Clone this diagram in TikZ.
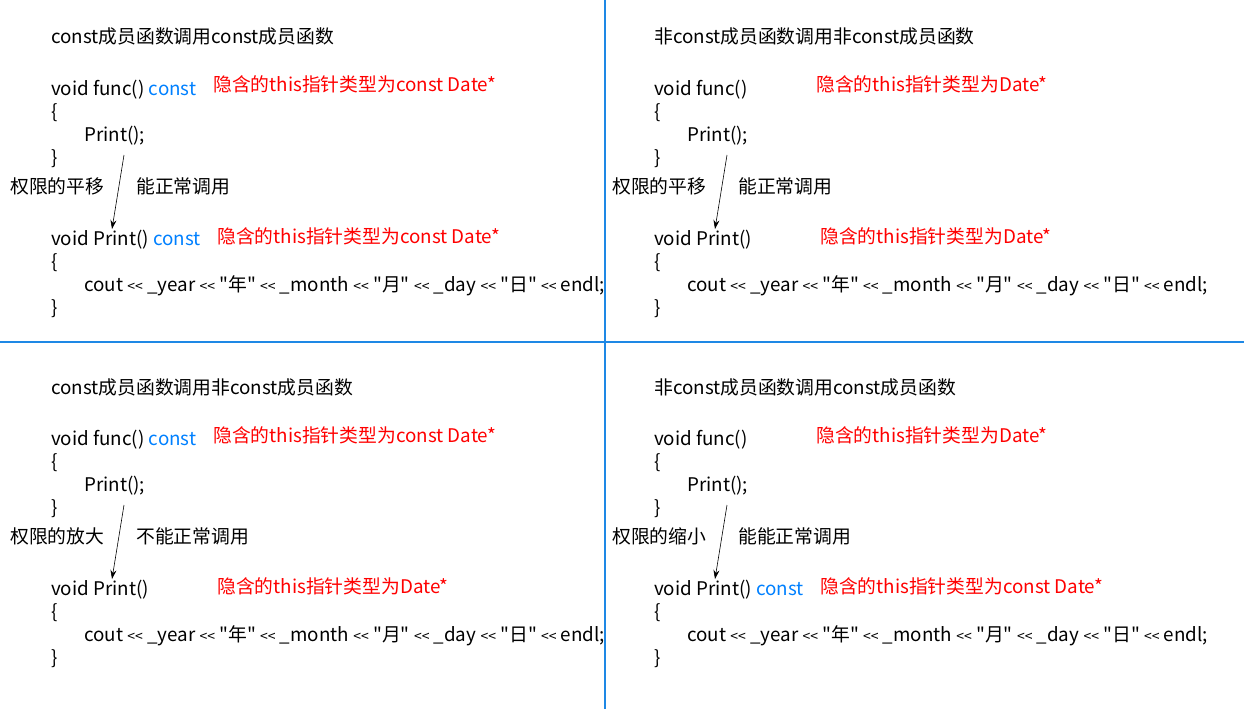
\documentclass[tikz,border=0pt]{standalone}
\usepackage{fontspec}
\newfontfamily\codefont{Noto Sans CJK SC}
\usetikzlibrary{arrows.meta, positioning}
\definecolor{divblue}{RGB}{30,136,229}
\definecolor{kwblue}{RGB}{0,128,255}
\newcommand{\kw}[1]{\textcolor{kwblue}{#1}}
\newcommand{\shl}{{\fontsize{14}{14}\selectfont<<}}

\begin{document}
\begin{tikzpicture}[
                x=1pt, y=-1pt,
                >={Stealth[length=9pt,width=6pt]},
                txt/.style={
                    anchor=base west,
                    inner sep=0pt,
                    font=\codefont\fontsize{18.8}{22}\selectfont
                },
                note/.style={
                    txt,
                    text=red
                },
                call/.style={
                    ->,
                    semithick
                },
                divider/.style={
                    divblue,
                    line width=1.5pt
                }
            ]

                \useasboundingbox (0,0) rectangle (1244,709);

                % top left
                \begin{scope}
                    \node[txt] (ta) at (51,44) {const成员函数调用const成员函数};
                    \node[txt] (fa) at (51,95) {void func() \kw{const}};
                    \node[note] (na) at (213,92) {隐含的this指针类型为const Date*};
                    \node[txt] (ba) at (51,118) {\{};
                    \node[txt] (ca) at (84,141) {Print();};
                    \node[txt] (ea) at (51,164) {\}};
                    \node[txt] (la) at (10,193) {权限的平移};
                    \node[txt] (ra) at (136,193) {能正常调用};
                    \node[txt] (pa) at (51,245) {void Print() \kw{const}};
                    \node[note] (ma) at (217,243) {隐含的this指针类型为const Date*};
                    \node[txt] (ba2) at (51,268) {\{};
                    \node[txt] (oa) at (84,291) {cout \shl{} \_year \shl{} "年" \shl{} \_month \shl{} "月" \shl{} \_day \shl{} "日" \shl{} endl;};
                    \node[txt] (ea2) at (51,314) {\}};
                    \coordinate (sa) at (124,155);
                    \coordinate (da) at (112,229);
                    \draw[call] (sa) -- (da);
                \end{scope}

                % top right
                \begin{scope}[shift={(603,0)}]
                    \node[txt] (tb) at (51,44) {非const成员函数调用非const成员函数};
                    \node[txt] (fb) at (51,95) {void func()};
                    \node[note] (nb) at (213,92) {隐含的this指针类型为Date*};
                    \node[txt] (bb) at (51,118) {\{};
                    \node[txt] (cb) at (84,141) {Print();};
                    \node[txt] (eb) at (51,164) {\}};
                    \node[txt] (lb) at (9,193) {权限的平移};
                    \node[txt] (rb) at (135,193) {能正常调用};
                    \node[txt] (pb) at (51,245) {void Print()};
                    \node[note] (mb) at (217,243) {隐含的this指针类型为Date*};
                    \node[txt] (bb2) at (51,268) {\{};
                    \node[txt] (ob) at (84,291) {cout \shl{} \_year \shl{} "年" \shl{} \_month \shl{} "月" \shl{} \_day \shl{} "日" \shl{} endl;};
                    \node[txt] (eb2) at (51,314) {\}};
                    \coordinate (sb) at (124,155);
                    \coordinate (db) at (112,229);
                    \draw[call] (sb) -- (db);
                \end{scope}

                % bottom left
                \begin{scope}[shift={(0,350)}]
                    \node[txt] (tc) at (51,44) {const成员函数调用非const成员函数};
                    \node[txt] (fc) at (51,95) {void func() \kw{const}};
                    \node[note] (nc) at (213,92) {隐含的this指针类型为const Date*};
                    \node[txt] (bc) at (51,118) {\{};
                    \node[txt] (cc) at (84,141) {Print();};
                    \node[txt] (ec) at (51,164) {\}};
                    \node[txt] (lc) at (10,193) {权限的放大};
                    \node[txt] (rc) at (136,193) {不能正常调用};
                    \node[txt] (pc) at (51,245) {void Print()};
                    \node[note] (mc) at (217,243) {隐含的this指针类型为Date*};
                    \node[txt] (bc2) at (51,268) {\{};
                    \node[txt] (oc) at (84,291) {cout \shl{} \_year \shl{} "年" \shl{} \_month \shl{} "月" \shl{} \_day \shl{} "日" \shl{} endl;};
                    \node[txt] (ec2) at (51,314) {\}};
                    \coordinate (sc) at (124,155);
                    \coordinate (dc) at (112,229);
                    \draw[call] (sc) -- (dc);
                \end{scope}

                % bottom right
                \begin{scope}[shift={(603,350)}]
                    \node[txt] (td) at (51,44) {非const成员函数调用const成员函数};
                    \node[txt] (fd) at (51,95) {void func()};
                    \node[note] (nd) at (213,92) {隐含的this指针类型为Date*};
                    \node[txt] (bd) at (51,118) {\{};
                    \node[txt] (cd) at (84,141) {Print();};
                    \node[txt] (ed) at (51,164) {\}};
                    \node[txt] (ld) at (9,193) {权限的缩小};
                    \node[txt] (rd) at (135,193) {能能正常调用};
                    \node[txt] (pd) at (51,245) {void Print() \kw{const}};
                    \node[note] (md) at (217,243) {隐含的this指针类型为const Date*};
                    \node[txt] (bd2) at (51,268) {\{};
                    \node[txt] (od) at (84,291) {cout \shl{} \_year \shl{} "年" \shl{} \_month \shl{} "月" \shl{} \_day \shl{} "日" \shl{} endl;};
                    \node[txt] (ed2) at (51,314) {\}};
                    \coordinate (sd) at (124,155);
                    \coordinate (dd) at (112,229);
                    \draw[call] (sd) -- (dd);
                \end{scope}

                % dividers
                \draw[divider] (605,0) -- (605,709);
                \draw[divider] (0,342) -- (1244,342);

            \end{tikzpicture}
\end{document}
